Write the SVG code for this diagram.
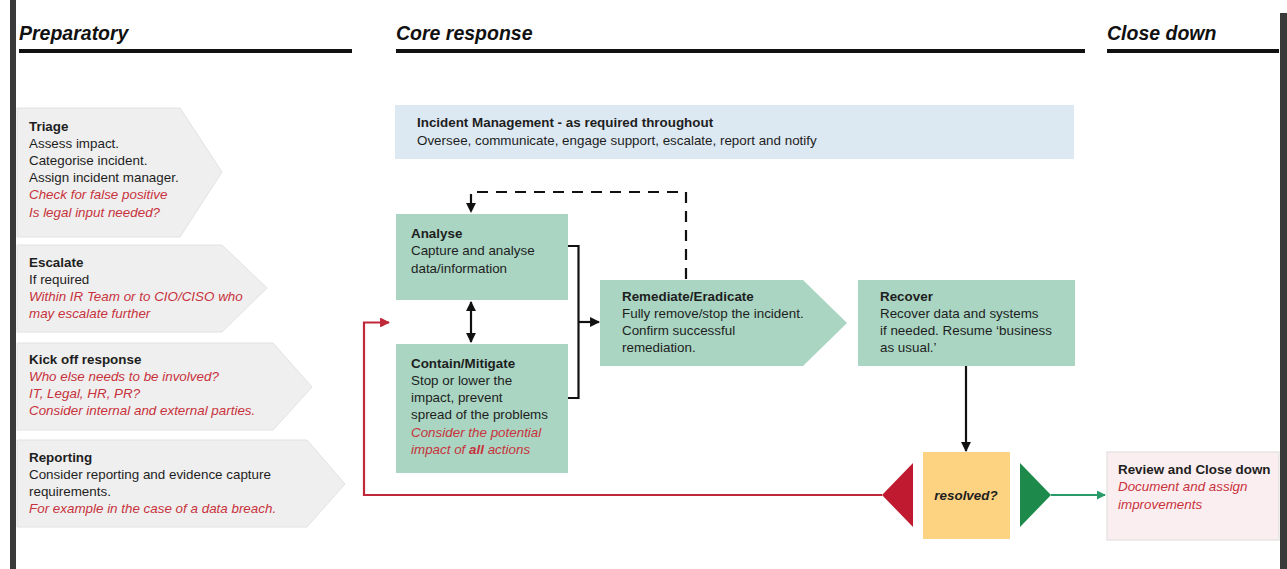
<svg xmlns="http://www.w3.org/2000/svg" width="1287" height="569" viewBox="0 0 1287 569">
<defs>
<style>
text{font-family:"Liberation Sans",Arial,sans-serif;font-size:13.4px;fill:#1e1e1e}
.h{font-size:19.5px;font-weight:bold;font-style:italic;fill:#111}
.b{font-weight:bold}
.r{fill:#c8323c;font-style:italic}
.prep{fill:#efefef;stroke:#e2e2e2;stroke-width:1}
.grn{fill:#a9d5c2}
.conn{fill:none;stroke:#111;stroke-width:2.2}
</style>
<marker id="ab" viewBox="0 0 10 10" refX="9" refY="5" markerWidth="4.5" markerHeight="4.5" orient="auto-start-reverse" markerUnits="strokeWidth"><path d="M0,0 L10,5 L0,10 z" fill="#111"/></marker>
<marker id="ar" viewBox="0 0 10 10" refX="9" refY="5" markerWidth="4.5" markerHeight="4.5" orient="auto" markerUnits="strokeWidth"><path d="M0,0 L10,5 L0,10 z" fill="#c0283a"/></marker>
<marker id="ag" viewBox="0 0 10 10" refX="9" refY="5" markerWidth="4.5" markerHeight="4.5" orient="auto" markerUnits="strokeWidth"><path d="M0,0 L10,5 L0,10 z" fill="#2a9a68"/></marker>
</defs>
<rect width="1287" height="569" fill="#ffffff"/>
<!-- side bars -->
<rect x="10" y="0" width="6" height="569" fill="#3a3a3a"/>
<rect x="1280" y="13" width="7" height="556" fill="#3a3a3a"/>
<!-- headers -->
<g id="headers">
<text class="h" x="19" y="40">Preparatory</text>
<rect x="19" y="49" width="333" height="4" fill="#111"/>
<text class="h" x="396" y="40">Core response</text>
<rect x="396" y="49" width="689" height="4" fill="#111"/>
<text class="h" x="1107" y="40">Close down</text>
<rect x="1107" y="49" width="172" height="4" fill="#111"/>
</g>
<g id="triage">
<polygon class="prep" points="17,108 180,108 222,172 180,237 17,237"/>
<text x="29" y="130.5"><tspan class="b">Triage</tspan><tspan x="29" dy="17.2">Assess impact.</tspan><tspan x="29" dy="17.2">Categorise incident.</tspan><tspan x="29" dy="17.2">Assign incident manager.</tspan><tspan x="29" dy="17.2" class="r">Check for false positive</tspan><tspan x="29" dy="17.2" class="r">Is legal input needed?</tspan></text>
</g>
<g id="escalate">
<polygon class="prep" points="17,245 222,245 267,288 222,332 17,332"/>
<text x="29" y="266.5"><tspan class="b">Escalate</tspan><tspan x="29" dy="17.3">If required</tspan><tspan x="29" dy="17.3" class="r">Within IR Team or to CIO/CISO who</tspan><tspan x="29" dy="17.3" class="r">may escalate further</tspan></text>
</g>
<g id="kickoff">
<polygon class="prep" points="17,343 273,343 312,387 273,430 17,430"/>
<text x="29" y="363.5"><tspan class="b">Kick off response</tspan><tspan x="29" dy="17.3" class="r">Who else needs to be involved?</tspan><tspan x="29" dy="17.3" class="r">IT, Legal, HR, PR?</tspan><tspan x="29" dy="17.3" class="r">Consider internal and external parties.</tspan></text>
</g>
<g id="reporting">
<polygon class="prep" points="17,440 307,440 345,484 307,527 17,527"/>
<text x="29" y="461.5"><tspan class="b">Reporting</tspan><tspan x="29" dy="17.3">Consider reporting and evidence capture</tspan><tspan x="29" dy="17.3">requirements.</tspan><tspan x="29" dy="17.3" class="r">For example in the case of a data breach.</tspan></text>
</g>
<g id="incident-management">
<rect x="395" y="105" width="679" height="54" fill="#dde9f2"/>
<text x="417" y="126.5"><tspan class="b">Incident Management - as required throughout</tspan><tspan x="417" dy="18">Oversee, communicate, engage support, escalate, report and notify</tspan></text>
</g>
<g id="analyse">
<rect class="grn" x="396" y="214" width="172" height="86"/>
<text x="411" y="237.5"><tspan class="b">Analyse</tspan><tspan x="411" dy="17.5">Capture and analyse</tspan><tspan x="411" dy="17.5">data/information</tspan></text>
</g>
<g id="contain">
<rect class="grn" x="396" y="344" width="172" height="129"/>
<text x="411" y="367.5"><tspan class="b">Contain/Mitigate</tspan><tspan x="411" dy="17.3">Stop or lower the</tspan><tspan x="411" dy="17.3">impact, prevent</tspan><tspan x="411" dy="17.3">spread of the problems</tspan><tspan x="411" dy="17.3" class="r">Consider the potential</tspan><tspan x="411" dy="17.3" class="r">impact of <tspan class="b">all</tspan> actions</tspan></text>
</g>
<g id="remediate">
<polygon class="grn" points="600,280 803,280 847,323 803,366 600,366"/>
<text x="622" y="300.5"><tspan class="b">Remediate/Eradicate</tspan><tspan x="622" dy="17">Fully remove/stop the incident.</tspan><tspan x="622" dy="17">Confirm successful</tspan><tspan x="622" dy="17">remediation.</tspan></text>
</g>
<g id="recover">
<rect class="grn" x="858" y="280" width="217" height="86"/>
<text x="880" y="300.5"><tspan class="b">Recover</tspan><tspan x="880" dy="17">Recover data and systems</tspan><tspan x="880" dy="17">if needed.  Resume  ‘business</tspan><tspan x="880" dy="17">as usual.’</tspan></text>
</g>
<g id="resolved">
<polygon points="913,463 913,527 882,495" fill="#c01a30"/>
<rect x="923" y="452" width="87" height="87" fill="#fdd381"/>
<polygon points="1020,463 1020,527 1051,495" fill="#1d8a4c"/>
<text x="966" y="500" text-anchor="middle" class="b" font-style="italic">resolved?</text>
</g>
<g id="review">
<rect x="1107" y="452" width="172" height="88" fill="#fbeef0" stroke="#dcdcdc" stroke-width="1"/>
<text x="1118" y="473.5"><tspan class="b">Review and Close down</tspan><tspan x="1118" dy="17.5" class="r">Document and assign</tspan><tspan x="1118" dy="17.5" class="r">improvements</tspan></text>
</g>
<g id="connectors">
<path class="conn" d="M568,246 H578.5 V398 H568"/>
<path class="conn" d="M578.5,322 H599" marker-end="url(#ab)"/>
<path class="conn" d="M471,302 V342" marker-start="url(#ab)" marker-end="url(#ab)"/>
<path class="conn" d="M686,279 V192 H471 V212" stroke-dasharray="11,8" marker-end="url(#ab)"/>
<path class="conn" d="M966,366 V451" marker-end="url(#ab)"/>
<path d="M882,495 H364 V322.5 H389" fill="none" stroke="#c0283a" stroke-width="2.2" marker-end="url(#ar)"/>
<path d="M1051,495 H1105" fill="none" stroke="#2a9a68" stroke-width="2" marker-end="url(#ag)"/>
</g>
</svg>
